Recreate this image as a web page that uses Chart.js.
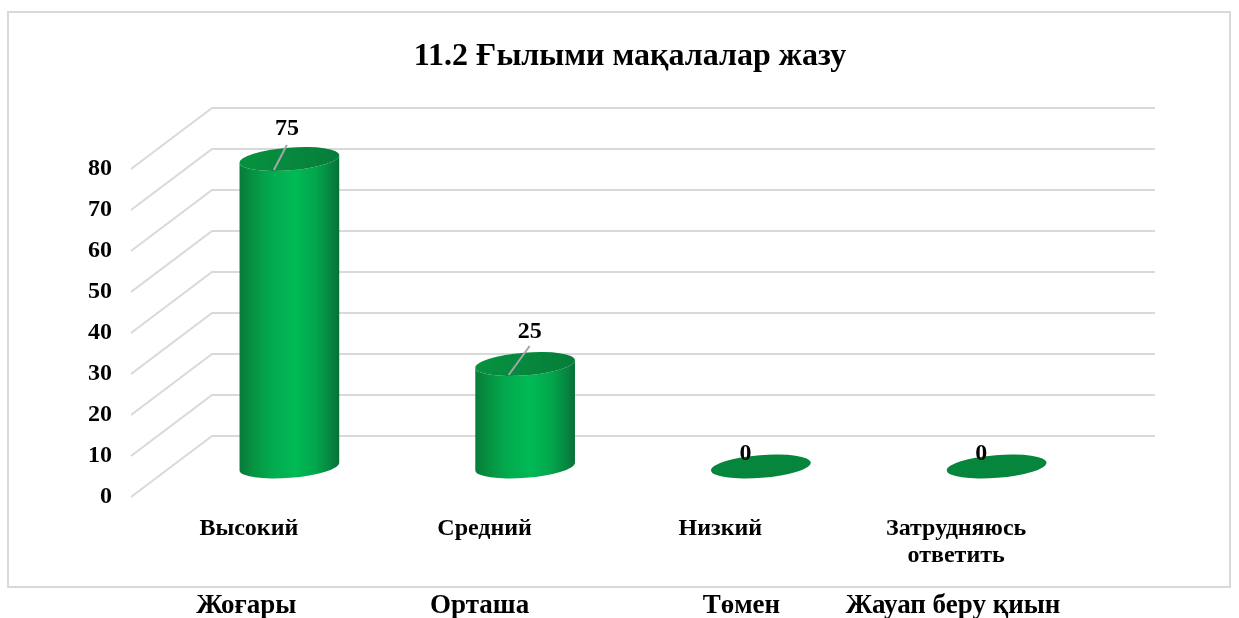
<!DOCTYPE html>
<html><head><meta charset="utf-8">
<style>html,body{margin:0;padding:0;background:#fff;overflow:hidden}canvas{display:block}</style>
<script src="https://cdn.jsdelivr.net/npm/chart.js@4"></script></head>
<body><canvas id="c" width="1239" height="618"></canvas>
<script>
const categories = ['Высокий','Средний','Низкий',['Затрудняюсь','ответить']];
const kazakhLabels = ['Жоғары','Орташа','Төмен','Жауап беру қиын'];
const values = [75,25,0,0];
const titleText = '11.2 Ғылыми мақалалар жазу';
const tickStep = 10, axisMax = 80;

// Style and pseudo-3D projection settings (separate from the data)
const FONT = '"Liberation Serif","Times New Roman",serif';
const GRID = '#d9d9d9';
const DEPTH = {x:81, y:-61};
const CYL = {rx:50, ry:11.4, rot:-4.5*Math.PI/180};
const labelOffsets = [[-2.5,-30],[4.5,-32],[-15.5,-13],[-15.5,-13]];
const leaderLines = [[[-2.5,-14],[-15.5,11]],[[4.5,-18],[-16.5,11]],null,null];
const kazakhShift = [-2.5,-5,21,-3];

const threeD = {
  id:'threeD',
  beforeDraw(chart){
    const {ctx,width,height}=chart;
    ctx.save();
    ctx.fillStyle='#fff';ctx.fillRect(0,0,width,height);
    ctx.strokeStyle=GRID;ctx.lineWidth=2;
    ctx.strokeRect(8,12,1222,575);
    ctx.restore();
  },
  beforeDatasetsDraw(chart){
    const {ctx,scales:{y},chartArea:a}=chart;
    ctx.save();ctx.strokeStyle=GRID;ctx.lineWidth=2;ctx.lineJoin='miter';
    y.ticks.forEach(t=>{
      const py=y.getPixelForValue(t.value);
      ctx.beginPath();
      ctx.moveTo(a.left,py);
      ctx.lineTo(a.left+DEPTH.x,py+DEPTH.y);
      ctx.lineTo(a.right+DEPTH.x,py+DEPTH.y);
      ctx.stroke();
    });
    ctx.restore();
  },
  afterDatasetsDraw(chart){
    const {ctx,scales:{x}}=chart;
    const meta=chart.getDatasetMeta(0);
    meta.data.forEach((el,i)=>{
      const cx=el.x+DEPTH.x/2, top=el.y+DEPTH.y/2, base=el.base+DEPTH.y/2;
      ctx.save();
      if(base-top>0.5){
        const g=ctx.createLinearGradient(cx-CYL.rx,0,cx+CYL.rx,0);
        g.addColorStop(0,'#087a3c');
        g.addColorStop(0.12,'#06903f');
        g.addColorStop(0.3,'#03a84d');
        g.addColorStop(0.55,'#00ba56');
        g.addColorStop(0.75,'#02a84c');
        g.addColorStop(0.92,'#068540');
        g.addColorStop(1,'#086f38');
        ctx.fillStyle=g;
        ctx.beginPath();
        ctx.ellipse(cx,base,CYL.rx,CYL.ry,CYL.rot,0,Math.PI,false);
        ctx.ellipse(cx,top,CYL.rx,CYL.ry,CYL.rot,Math.PI,0,true);
        ctx.closePath();ctx.fill();
        const c=ctx.createLinearGradient(cx-CYL.rx,0,cx+CYL.rx,0);
        c.addColorStop(0,'#06923f');c.addColorStop(0.5,'#06883e');c.addColorStop(1,'#067d3a');
        ctx.fillStyle=c;
      } else {
        ctx.fillStyle='#06853c';
      }
      ctx.beginPath();
      ctx.ellipse(cx,top,CYL.rx,CYL.ry,CYL.rot,0,Math.PI*2);
      ctx.fill();
      const ln=leaderLines[i];
      if(ln){
        ctx.strokeStyle='#a6a6a6';ctx.lineWidth=2;
        ctx.beginPath();
        ctx.moveTo(cx+ln[0][0],top+ln[0][1]);
        ctx.lineTo(cx+ln[1][0],top+ln[1][1]);
        ctx.stroke();
      }
      ctx.fillStyle='#000';
      ctx.font='bold 24px '+FONT;
      ctx.textAlign='center';ctx.textBaseline='middle';
      ctx.fillText(String(values[i]),cx+labelOffsets[i][0],top+labelOffsets[i][1]);
      ctx.restore();
    });
    ctx.save();
    ctx.fillStyle='#000';ctx.font='bold 27px '+FONT;
    ctx.textAlign='center';ctx.textBaseline='middle';
    kazakhLabels.forEach((t,i)=>{
      ctx.fillText(t,x.getPixelForTick(i)+kazakhShift[i],606);
    });
    ctx.restore();
  }
};

new Chart(document.getElementById('c'),{
  type:'bar',
  data:{labels:categories,datasets:[{data:values,backgroundColor:'rgba(0,0,0,0)',borderWidth:0,yAxisID:'y'}]},
  plugins:[threeD],
  options:{
    responsive:false,animation:false,
    layout:{padding:{left:21,right:0,top:0,bottom:0}},
    plugins:{
      legend:{display:false},tooltip:{enabled:false},
      title:{display:true,text:titleText,color:'#000',align:'center',
        font:{family:FONT,size:32,weight:'bold'},padding:{top:37.5,bottom:93.1}}
    },
    scales:{
      x:{grid:{display:false},border:{display:false},
        ticks:{color:'#000',padding:9.5,maxRotation:0,minRotation:0,autoSkip:false,
          font:{family:FONT,size:24,weight:'bold',lineHeight:1.15}},
        afterFit(s){s.height=121;}},
      y:{min:0,max:axisMax,grid:{display:false},border:{display:false},
        ticks:{stepSize:tickStep,color:'#000',padding:11,font:{family:FONT,size:24,weight:'bold'}},
        afterFit(s){s.width=110;}},
      yRightSpace:{position:'right',min:0,max:axisMax,grid:{display:false},border:{display:false},
        ticks:{display:false},afterFit(s){s.width=165;}}
    }
  }
});
</script></body></html>
